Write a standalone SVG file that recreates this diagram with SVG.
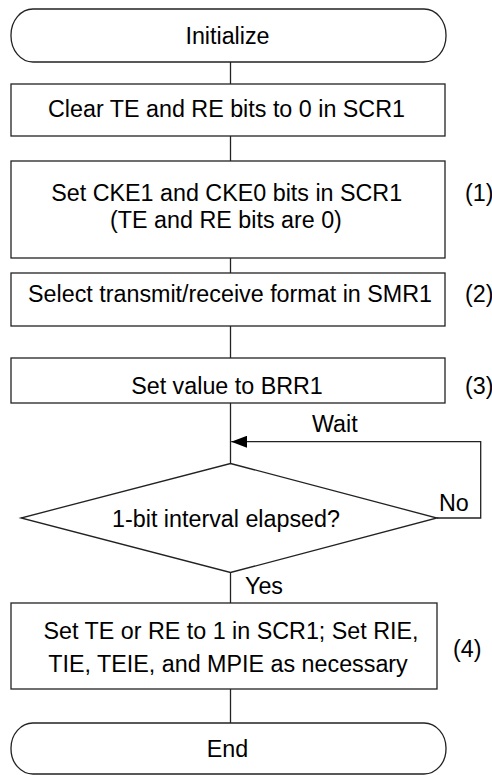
<svg xmlns="http://www.w3.org/2000/svg" width="492" height="775" viewBox="0 0 492 775">
<style>
.s{fill:#fff;stroke:#222;stroke-width:1.3}
.c{fill:none;stroke:#222;stroke-width:1.3}
text{font-family:"Liberation Sans",Arial,sans-serif;font-size:23.3px;fill:#000}
.m{text-anchor:middle}
</style>
<defs>
<marker id="ah" markerWidth="16" markerHeight="12" refX="16" refY="6" orient="auto" markerUnits="userSpaceOnUse">
<path d="M0,0 L16,6 L0,12 Z" fill="#000"/>
</marker>
</defs>
<rect width="492" height="775" fill="#fff"/>
<g id="connectors">
<line class="c" x1="230.5" y1="62" x2="230.5" y2="84"/>
<line class="c" x1="230.5" y1="136" x2="230.5" y2="161"/>
<line class="c" x1="230.5" y1="258" x2="230.5" y2="273"/>
<line class="c" x1="230.5" y1="326" x2="230.5" y2="358"/>
<line class="c" x1="230.5" y1="403" x2="230.5" y2="463.5"/>
<polyline class="c" points="437,518 480.7,518 480.7,441.7 231.2,441.7" marker-end="url(#ah)"/>
<line class="c" x1="230.5" y1="572.5" x2="230.5" y2="603"/>
<line class="c" x1="230.5" y1="689" x2="230.5" y2="723"/>
<text x="312" y="431.5">Wait</text>
<text x="439" y="510.5">No</text>
<text x="245" y="594">Yes</text>
</g>
<g id="init">
<rect class="s" x="11" y="9" width="435" height="53" rx="22" ry="26"/>
<text class="m" x="227.5" y="43.5">Initialize</text>
</g>
<g id="clear">
<rect class="s" x="11" y="84" width="434" height="52"/>
<text class="m" x="226.5" y="117.3">Clear TE and RE bits to 0 in SCR1</text>
</g>
<g id="cke">
<rect class="s" x="11" y="161" width="434" height="97"/>
<text class="m" x="226.7" y="201.3">Set CKE1 and CKE0 bits in SCR1</text>
<text class="m" x="226" y="228">(TE and RE bits are 0)</text>
<text x="465" y="201.3">(1)</text>
</g>
<g id="smr">
<rect class="s" x="11" y="273" width="434" height="53"/>
<text class="m" x="230" y="302">Select transmit/receive format in SMR1</text>
<text x="465" y="302">(2)</text>
</g>
<g id="brr">
<rect class="s" x="11" y="358" width="434" height="45"/>
<text class="m" x="227" y="393.5">Set value to BRR1</text>
<text x="465" y="393.5">(3)</text>
</g>
<g id="decision">
<polygon class="s" points="230.5,463.5 437,518 230.5,572.5 21,518"/>
<text class="m" x="226" y="527">1-bit interval elapsed?</text>
</g>
<g id="set">
<rect class="s" x="11" y="603" width="426" height="86"/>
<text class="m" x="231" y="639">Set TE or RE to 1 in SCR1; Set RIE,</text>
<text class="m" x="228" y="671.7">TIE, TEIE, and MPIE as necessary</text>
<text x="453" y="657">(4)</text>
</g>
<g id="end">
<rect class="s" x="11" y="723" width="435" height="51" rx="22" ry="25"/>
<text class="m" x="227.5" y="756.7">End</text>
</g>
</svg>
